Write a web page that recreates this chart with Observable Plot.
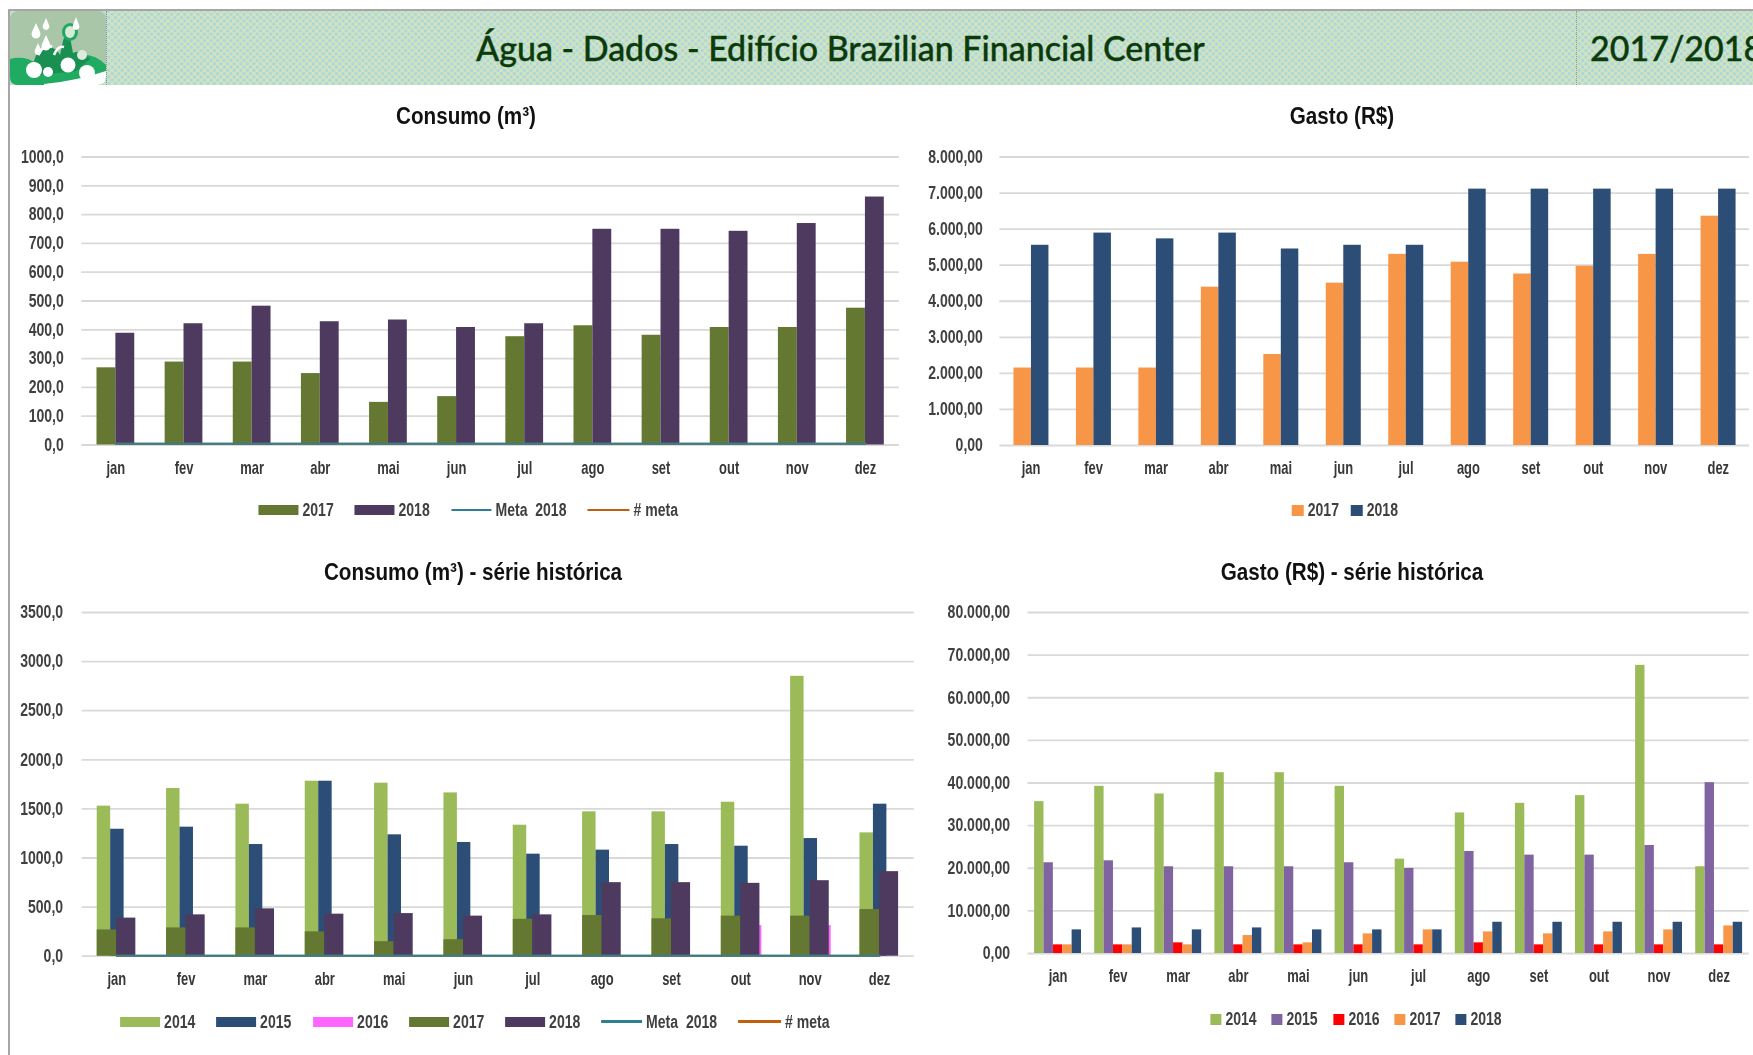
<!DOCTYPE html>
<html lang="pt-BR">
<head>
<meta charset="utf-8">
<title>Água - Dados - Edifício Brazilian Financial Center</title>
<script src="https://cdn.jsdelivr.net/npm/d3@7"></script>
<script src="https://cdn.jsdelivr.net/npm/@observablehq/plot@0.6"></script>
<style>
html,body{margin:0;padding:0;background:#fff;overflow:hidden}
#page{position:relative;width:1753px;height:1055px;overflow:hidden;font-family:"Liberation Sans",sans-serif;filter:blur(.55px)}
#frameTop{position:absolute;left:8px;top:9px;right:0;height:2px;background:#a6a6a6}
#frameLeft{position:absolute;left:8px;top:9px;bottom:0;width:2px;background:#a6a6a6}
#band{position:absolute;left:10px;top:11px;right:0;height:74px;background-color:#d2e5bb;
 background-image:radial-gradient(circle,#afd6de 30%,transparent 46%),radial-gradient(circle,#afd6de 30%,transparent 46%);
 background-size:6.6px 6.6px;background-position:0 0,3.3px 3.3px}
#logo{position:absolute;left:10px;top:11px;width:96px;height:74px;border-right:1px dotted #7f8fb0}
#sep{position:absolute;left:1576px;top:11px;height:74px;border-left:1px dotted #9a9a80}
.head{position:absolute;font-family:Lato,"Open Sans",sans-serif;color:#0b3b0b;font-size:34px;font-weight:500;line-height:40px;white-space:nowrap;-webkit-text-stroke:.35px #0b3b0b}
.ctitle{position:absolute;font-weight:700;font-size:24px;color:#111;white-space:nowrap;line-height:26px}
.panel{position:absolute}
.panel svg{display:block;background:transparent!important;overflow:visible}
.legend{position:absolute;transform:translate(-50%,-50%);display:flex;align-items:center;color:#404040;font-size:18px;font-weight:700;white-space:pre;line-height:20px}
.legend .it{display:flex;align-items:center;gap:4px}
.legend .tx{display:inline-block;transform-origin:left center}
</style>
</head>
<body>
<div id="page">
 <div id="band"></div>
 <div id="logo">
  <svg width="96" height="74" viewBox="0 0 96 74">
   <rect x="0" y="0" width="96" height="74" rx="8" fill="#a9c6a9"/>
   <path d="M0 48 Q14 44 26 52 L44 44 L70 44 Q84 42 96 54 L96 66 Q96 74 88 74 L8 74 Q0 74 0 66Z" fill="#1fab62"/>
   <path d="M34 73 Q66 70 96 60 L96 66 Q96 74 88 74 L34 74Z" fill="#ffffff"/>
   <path d="M24 50 Q28 36 37 38 Q44 34 50 44 L53 30 Q55 22 60 26 L63 42 Q72 38 80 48 L66 60 L30 64Z" fill="#1a8f52"/>
   <path d="M28 44 Q34 32 42 36" fill="none" stroke="#fff" stroke-width="3"/>
   <path d="M44 44 Q48 34 54 36" fill="none" stroke="#fff" stroke-width="2.500"/>
   <ellipse cx="60" cy="21" rx="8" ry="9" fill="#1fa862"/><ellipse cx="60" cy="21" rx="5" ry="6" fill="#d8ead8"/>
   <path d="M26 12 l4 9 a4.500 4.500 0 1 1 -8 0Z M36 7 l3 7 a3.400 3.400 0 1 1 -6 0Z M66 6 l3 8 a3.400 3.400 0 1 1 -6 0Z M36 24 l4 9 a4.500 4.500 0 1 1 -8 0Z M28 32 l3 7 a3.400 3.400 0 1 1 -6 0Z" fill="#fff"/>
   <circle cx="24" cy="59" r="8" fill="#fff"/><circle cx="38" cy="61" r="5" fill="#fff"/><circle cx="58" cy="54" r="7.500" fill="#fff"/><circle cx="77" cy="62" r="8" fill="#fff"/>
   <circle cx="72" cy="44" r="5" fill="#dcebdc"/>
  </svg>
 </div>
 <div id="sep"></div>
 <div class="head" id="h1" style="left:476px;top:28px">Água - Dados - Edifício Brazilian Financial Center</div>
 <div class="head" id="h2" style="left:1590px;top:28px">2017/2018</div>
 <div id="frameTop"></div><div id="frameLeft"></div>
</div>
<script>
// ---------- categorias ----------
const meses = ["jan","fev","mar","abr","mai","jun","jul","ago","set","out","nov","dez"];

// ---------- Consumo (m³) ----------
const consumo2017 = [268,288,288,248,148,168,376,414,381,408,408,475];
const consumo2018 = [388,421,482,428,434,408,421,749,749,742,769,861];
const metaConsumo = [4,4,4,4,4,4,4,4,4,4,4,4];
const difMeta = [4,4,4,4,4,4,4,4,4,4,4,4];

// ---------- Gasto (R$) ----------
const gasto2017 = [2148,2148,2148,4390,2523,4502,5300,5083,4755,4971,5299,6359];
const gasto2018 = [5552,5890,5730,5890,5449,5552,5552,7109,7109,7109,7109,7109];

// ---------- Consumo - série histórica ----------
const consumoHist2014 = [1528,1708,1548,1782,1762,1663,1334,1470,1470,1568,2850,1256];
const consumoHist2015 = [1293,1314,1137,1782,1236,1158,1039,1080,1137,1120,1198,1548];
const consumoHist2016 = [null,null,null,null,null,null,null,null,null,312,312,null];

// ---------- Gasto - série histórica ----------
const gastoHist2014 = [35630,39220,37430,42420,42420,39220,22140,32980,35240,37040,67600,20350];
const gastoHist2015 = [21290,21750,20350,20350,20350,21290,19960,23940,23080,23080,25340,40080];
const gastoHist2016 = [2030,2030,2500,2030,2030,2030,2030,2500,2030,2030,2030,2030];
const gastoHist2017 = [2030,2030,2030,4210,2500,4600,5540,5070,4600,5070,5540,6470];
const gastoHist2018 = [5540,6000,5540,6000,5540,5540,5540,7330,7330,7330,7330,7330];

// ---------- eixos ----------
const ticksConsumo = [0,100,200,300,400,500,600,700,800,900,1000];
const ticksGasto = [0,1000,2000,3000,4000,5000,6000,7000,8000];
const ticksConsumoHist = [0,500,1000,1500,2000,2500,3000,3500];
const ticksGastoHist = [0,10000,20000,30000,40000,50000,60000,70000,80000];

// ---------- cores ----------
const verde14 = "#9bbb59", azul = "#2c4d75", rosa = "#ff66ff", oliva = "#647832",
      roxo = "#4f3a5f", lilas = "#8064a2", vermelho = "#ff0000", laranja = "#f79646",
      metaCor = "#2f7f93", difCor = "#c0600f";

const br = d3.formatLocale({decimal:",",thousands:".",grouping:[3],currency:["R$",""]});
const fmt1 = br.format(".1f"), fmt2 = br.format(",.2f");
const page = document.getElementById("page");
const estreitoY = .78, estreitoX = .72, estreitoLeg = .78; // a fonte original é condensada

function comprimir(svg, seletor, s) {
  svg.querySelectorAll(`g[aria-label="${seletor}"] text`).forEach(t => {
    const x = +(t.getAttribute("x") || 0);
    const tr = t.getAttribute("transform") || "";
    t.setAttribute("transform", `${tr} translate(${x} 0) scale(${s} 1) translate(${-x} 0)`);
  });
}

function chart({title, titleX, titleY, titleScale = .86, left, top, width, height, ml, mr, mt, mb, ticks, format,
                tickPad, labelPad, series, lines = [], legend, legendX, legendY}) {
  const t = document.createElement("div");
  t.className = "ctitle"; t.textContent = title;
  t.style.left = titleX + "px"; t.style.top = titleY + "px";
  t.style.transform = `translate(-50%,-50%) scaleX(${titleScale})`;
  page.appendChild(t);

  const marks = [
    Plot.gridY(ticks, {stroke:"#d9d9d9", strokeOpacity:1, strokeWidth:1.8}),
    Plot.axisY({ticks, tickSize:0, tickPadding:tickPad, tickFormat:format, label:null,
                fontSize:18, fontWeight:700, fill:"#404040"}),
    Plot.axisX({ticks:meses.map((m,i)=>i+.5), tickSize:0, tickPadding:labelPad,
                tickFormat:(d)=>meses[Math.floor(d)], label:null,
                fontSize:18, fontWeight:700, fill:"#383838"})
  ];
  for (const s of series) {
    const rows = s.values.map((value,i)=>({i,value})).filter(d=>d.value!=null);
    marks.push(Plot.rectY(rows, {
      x1:d=>d.i+s.slot[0], x2:d=>d.i+s.slot[1], y1:0, y2:"value", fill:s.color
    }));
  }
  for (const l of lines) {
    marks.push(Plot.lineY(l.values, {x:(d,i)=>i+.5, y:d=>d, stroke:l.color, strokeWidth:2}));
  }
  const svg = Plot.plot({
    width, height, marginLeft:ml, marginRight:mr, marginTop:mt, marginBottom:mb,
    style:{fontFamily:'"Liberation Sans",sans-serif', background:"transparent"},
    x:{domain:[0,12]}, y:{domain:[d3.min(ticks),d3.max(ticks)]},
    marks
  });
  comprimir(svg, "y-axis tick label", estreitoY);
  comprimir(svg, "x-axis tick label", estreitoX);
  const p = document.createElement("div");
  p.className = "panel"; p.style.left = left+"px"; p.style.top = top+"px";
  p.appendChild(svg); page.appendChild(p);

  const lg = document.createElement("div");
  lg.className = "legend"; lg.style.left = legendX+"px"; lg.style.top = legendY+"px";
  lg.style.gap = legend.gap+"px";
  page.appendChild(lg);
  for (const e of legend.items) {
    const it = document.createElement("div"); it.className = "it";
    const sw = document.createElement("span");
    sw.style.cssText = `display:inline-block;width:${e.w}px;height:${e.h}px;background:${e.color}`;
    const tx = document.createElement("span"); tx.className = "tx"; tx.textContent = e.label;
    it.append(sw, tx); lg.appendChild(it);
    const w = tx.offsetWidth;
    tx.style.transform = `scaleX(${estreitoLeg})`;
    tx.style.marginRight = `${-(1-estreitoLeg)*w}px`;
  }
}

// largura relativa das barras por grupo, em fração de um mês
const par = (a,b) => [[a,(a+b)/2],[(a+b)/2,b]];
const [a1,b1] = par(.223,.777);
const [a2,b2] = par(.225,.785);

chart({
  title:"Consumo (m³)", titleX:466, titleY:116,
  left:0, top:144, width:905, height:345, ml:81.3, mr:6, mt:12.5, mb:44.5,
  ticks:ticksConsumo, format:fmt1, tickPad:18, labelPad:16,
  series:[{values:consumo2017,color:oliva,slot:a1},{values:consumo2018,color:roxo,slot:b1}],
  lines:[{values:difMeta,color:difCor},{values:metaConsumo,color:metaCor}],
  legendX:468, legendY:510,
  legend:{gap:21,items:[
    {label:"2017",color:oliva,w:40,h:10},{label:"2018",color:roxo,w:40,h:10},
    {label:"Meta  2018",color:metaCor,w:40,h:2.5},{label:"# meta",color:difCor,w:42,h:2.5}]}
});

chart({
  title:"Gasto (R$)", titleX:1342, titleY:116,
  left:920, top:144, width:833, height:345, ml:79.4, mr:4, mt:12.5, mb:44,
  ticks:ticksGasto, format:fmt2, tickPad:17, labelPad:16,
  series:[{values:gasto2017,color:laranja,slot:a2},{values:gasto2018,color:azul,slot:b2}],
  legendX:1345, legendY:510,
  legend:{gap:12,items:[{label:"2017",color:laranja,w:12,h:11},{label:"2018",color:azul,w:12,h:11}]}
});

chart({
  title:"Consumo (m³) - série histórica", titleX:473, titleY:572,
  left:0, top:599, width:920, height:395, ml:81.6, mr:6.3, mt:13, mb:38.3,
  ticks:ticksConsumoHist, format:fmt1, tickPad:19, labelPad:16,
  series:[
    {values:consumoHist2014,color:verde14,slot:[.218,.412]},
    {values:consumoHist2015,color:azul,slot:[.412,.606]},
    {values:consumoHist2016,color:rosa,slot:[.606,.803]},
    {values:consumo2017,color:oliva,slot:[.218,.5]},
    {values:consumo2018,color:roxo,slot:[.5,.775]}],
  lines:[{values:difMeta,color:difCor},{values:metaConsumo,color:metaCor}],
  legendX:475, legendY:1021.7,
  legend:{gap:21,items:[
    {label:"2014",color:verde14,w:40,h:10},{label:"2015",color:azul,w:40,h:10},
    {label:"2016",color:rosa,w:40,h:10},{label:"2017",color:oliva,w:40,h:10},
    {label:"2018",color:roxo,w:40,h:10},{label:"Meta  2018",color:metaCor,w:41,h:2.5},
    {label:"# meta",color:difCor,w:43,h:2.5}]}
});

const w5 = .156, s5 = .11, slot5 = k => [s5+k*w5, s5+(k+1)*w5];
chart({
  title:"Gasto (R$) - série histórica", titleX:1352, titleY:572,
  left:940, top:599, width:813, height:394, ml:87.5, mr:4.3, mt:13, mb:40,
  ticks:ticksGastoHist, format:fmt2, tickPad:18, labelPad:16,
  series:[
    {values:gastoHist2014,color:verde14,slot:slot5(0)},
    {values:gastoHist2015,color:lilas,slot:slot5(1)},
    {values:gastoHist2016,color:vermelho,slot:slot5(2)},
    {values:gastoHist2017,color:laranja,slot:slot5(3)},
    {values:gastoHist2018,color:azul,slot:slot5(4)}],
  legendX:1356, legendY:1019,
  legend:{gap:15,items:[
    {label:"2014",color:verde14,w:11,h:11},{label:"2015",color:lilas,w:11,h:11},
    {label:"2016",color:vermelho,w:11,h:11},{label:"2017",color:laranja,w:11,h:11},
    {label:"2018",color:azul,w:11,h:11}]}
});
</script>
</body>
</html>
